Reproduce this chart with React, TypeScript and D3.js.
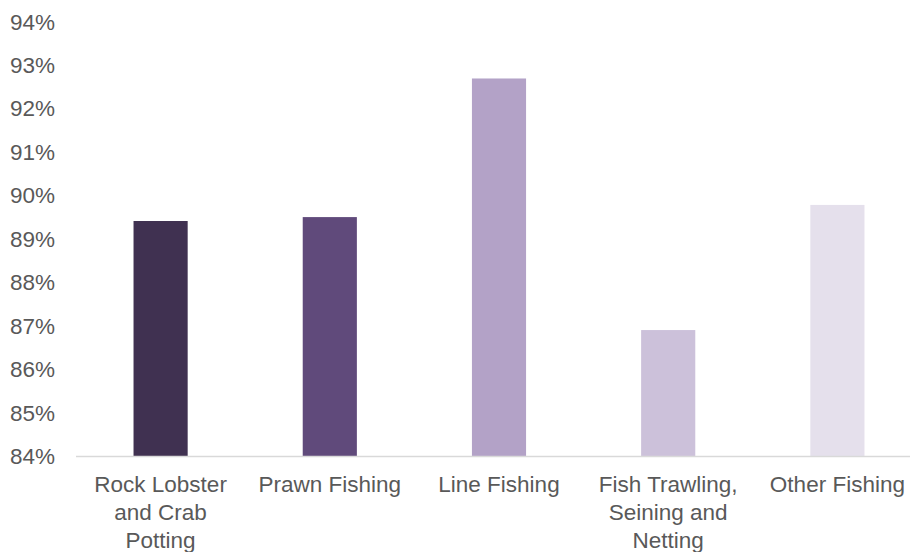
import React from "react";
import * as d3 from "d3";

const categories: string[][] = [
  ["Rock Lobster", "and Crab", "Potting"],
  ["Prawn Fishing"],
  ["Line Fishing"],
  ["Fish Trawling,", "Seining and", "Netting"],
  ["Other Fishing"],
];
const values: number[] = [89.42, 89.51, 92.7, 86.91, 89.79];
const barColors: string[] = ["#403151", "#604a7b", "#b3a2c7", "#ccc1da", "#e5e0ec"];
const yTicks: number[] = [84, 85, 86, 87, 88, 89, 90, 91, 92, 93, 94];

const W = 910;
const H = 552;
const left = 76;
const right = 922;
const top = 22;
const bottom = 456.5;
const font = "'Liberation Sans', Arial, sans-serif";
const textColor = "#595959";
const fontSize = 22.5;

export default function App() {
  const x = d3
    .scaleBand<number>()
    .domain(values.map((_, i) => i))
    .range([left, right])
    .paddingInner(0.68)
    .paddingOuter(0.34);
  const y = d3.scaleLinear().domain([84, 94]).range([bottom, top]);

  return (
    <svg
      width={W}
      height={H}
      style={{ position: "absolute", left: 0, top: 0, background: "#fff" }}
    >
      {yTicks.map((t) => (
        <text
          key={t}
          x={55}
          y={y(t)}
          textAnchor="end"
          dominantBaseline="central"
          fontFamily={font}
          fontSize={fontSize}
          fill={textColor}
        >
          {t}%
        </text>
      ))}
      {values.map((v, i) => (
        <rect
          key={i}
          x={x(i)}
          y={y(v)}
          width={x.bandwidth()}
          height={y(84) - y(v)}
          fill={barColors[i]}
        />
      ))}
      <line x1={left} x2={W} y1={bottom} y2={bottom} stroke="#d9d9d9" strokeWidth={1.5} />
      {categories.map((lines, i) => (
        <text
          key={i}
          textAnchor="middle"
          fontFamily={font}
          fontSize={fontSize}
          fill={textColor}
        >
          {lines.map((l, j) => (
            <tspan key={j} x={(x(i) as number) + x.bandwidth() / 2} y={492 + j * 28}>
              {l}
            </tspan>
          ))}
        </text>
      ))}
    </svg>
  );
}
